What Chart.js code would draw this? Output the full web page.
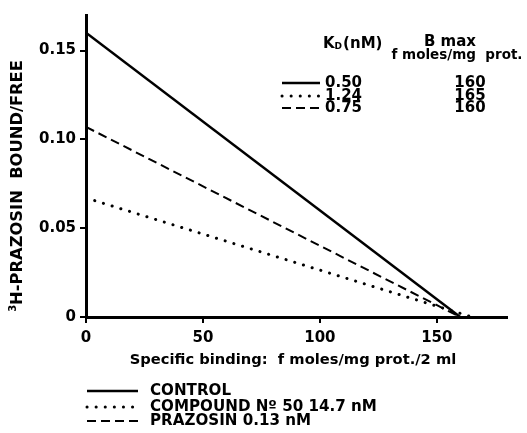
<!DOCTYPE html>
<html><head><meta charset="utf-8">
<script src="https://cdn.jsdelivr.net/npm/chart.js@4"></script>
<style>html,body{margin:0;padding:0;background:#fff}</style>
</head><body>
<canvas id="c" width="527" height="433"></canvas>
<script>
const seriesNames = ['CONTROL', 'COMPOUND N\u00BA 50 14.7 nM', 'PRAZOSIN 0.13 nM'];
const kdValues = ['0.50', '1.24', '0.75'];
const bmaxValues = ['160', '165', '160'];
const yIntercepts = [0.160, 0.067, 0.107];
const xIntercepts = [160, 165, 160];
const xTicks = [0, 50, 100, 150];
const yTicks = [0, 0.05, 0.10, 0.15];

const FONT = '"DejaVu Sans", "Liberation Sans", Arial, sans-serif';
const styles = [
  {borderWidth: 2.5, borderDash: [], cap: 'butt'},
  {borderWidth: 3, borderDash: [0.1, 9], cap: 'round'},
  {borderWidth: 2, borderDash: [9, 5], cap: 'butt'}
];

const datasets = seriesNames.map((n, i) => ({
  label: n,
  data: [{x: 0, y: yIntercepts[i]}, {x: xIntercepts[i], y: 0}],
  borderColor: '#000',
  borderWidth: styles[i].borderWidth,
  borderDash: styles[i].borderDash,
  borderCapStyle: styles[i].cap,
  pointRadius: 0,
  tension: 0,
  fill: false
}));

function sample(ctx, i, x1, x2, y) {
  ctx.save();
  ctx.strokeStyle = '#000';
  ctx.lineWidth = styles[i].borderWidth;
  ctx.setLineDash(styles[i].borderDash);
  ctx.lineCap = styles[i].cap;
  ctx.beginPath(); ctx.moveTo(x1, y); ctx.lineTo(x2, y); ctx.stroke();
  ctx.restore();
}

function fitSize(ctx, text, target, base) {
  ctx.font = 'bold ' + base + 'px ' + FONT;
  const w = ctx.measureText(text).width;
  return base * target / w;
}

const textPlugin = {
  id: 'texts',
  afterDraw(chart) {
    const ctx = chart.ctx;
    ctx.save();
    ctx.fillStyle = '#000';
    ctx.textBaseline = 'middle';
    // y title
    ctx.save();
    ctx.translate(18, 186);
    ctx.rotate(-Math.PI / 2);
    const main = 'H-PRAZOSIN  BOUND/FREE';
    const ys = fitSize(ctx, main, 245, 15);
    ctx.font = 'bold ' + ys + 'px ' + FONT;
    const wMain = ctx.measureText(main).width;
    ctx.font = 'bold 10px ' + FONT;
    const wSup = ctx.measureText('3').width;
    const start = -(wMain + wSup) / 2;
    ctx.textAlign = 'left';
    ctx.fillText('3', start, -5);
    ctx.font = 'bold ' + ys + 'px ' + FONT;
    ctx.fillText(main, start + wSup, 0);
    ctx.restore();
    // x title
    const xt = 'Specific binding:  f moles/mg prot./2 ml';
    const xs = fitSize(ctx, xt, 327, 15);
    ctx.font = 'bold ' + xs + 'px ' + FONT;
    ctx.textAlign = 'center';
    ctx.fillText(xt, 293, 360);
    // table header
    ctx.textAlign = 'left';
    ctx.font = 'bold 15px ' + FONT;
    ctx.fillText('K', 323, 44);
    let wk = ctx.measureText('K').width;
    ctx.font = 'bold 9px ' + FONT;
    ctx.fillText('D', 323 + wk, 47);
    let wd = ctx.measureText('D').width;
    ctx.font = 'bold 15px ' + FONT;
    ctx.fillText('(nM)', 323 + wk + wd + 1, 44);
    ctx.textAlign = 'center';
    ctx.fillText('B max', 450, 42);
    const hs = fitSize(ctx, 'f moles/mg  prot.', 131, 15);
    ctx.font = 'bold ' + hs + 'px ' + FONT;
    ctx.fillText('f moles/mg  prot.', 457, 55);
    // rows
    ctx.font = 'bold 15px ' + FONT;
    const rowY = [83, 96, 108];
    kdValues.forEach((kd, i) => {
      sample(ctx, i, 282, 320, rowY[i]);
      ctx.textAlign = 'left';
      ctx.fillText(kd, 325, rowY[i]);
      ctx.textAlign = 'center';
      ctx.fillText(bmaxValues[i], 470, rowY[i]);
    });
    // bottom legend
    const ls = fitSize(ctx, seriesNames[1], 227, 15);
    ctx.font = 'bold ' + ls + 'px ' + FONT;
    const legY = [391, 407, 421];
    seriesNames.forEach((n, i) => {
      sample(ctx, i, 87, 138, legY[i]);
      ctx.textAlign = 'left';
      ctx.fillText(n, 150, legY[i]);
    });
    ctx.restore();
  }
};

new Chart(document.getElementById('c'), {
  type: 'line',
  data: {datasets},
  plugins: [textPlugin],
  options: {
    responsive: false,
    animation: false,
    devicePixelRatio: 1,
    layout: {padding: {top: 15, right: 20, left: 0, bottom: 0}},
    plugins: {legend: {display: false}, tooltip: {enabled: false}},
    scales: {
      x: {
        type: 'linear', min: 0, max: 180,
        afterBuildTicks: s => { s.ticks = xTicks.map(v => ({value: v})); },
        afterFit: s => { s.height = 116; },
        ticks: {color: '#000', font: {family: FONT, size: 15, weight: 'bold'}, padding: 6, maxRotation: 0,
          callback: v => String(v)},
        grid: {drawOnChartArea: false, tickLength: 6, color: '#000', lineWidth: 2},
        border: {color: '#000', width: 3}
      },
      y: {
        type: 'linear', min: 0, max: 0.17,
        afterBuildTicks: s => { s.ticks = yTicks.map(v => ({value: v})); },
        afterFit: s => { s.width = 86; },
        ticks: {color: '#000', font: {family: FONT, size: 15, weight: 'bold'}, padding: 4,
          callback: v => v === 0 ? '0' : v.toFixed(2)},
        grid: {drawOnChartArea: false, tickLength: 6, color: '#000', lineWidth: 2},
        border: {color: '#000', width: 3}
      }
    }
  }
});
</script>
</body></html>
